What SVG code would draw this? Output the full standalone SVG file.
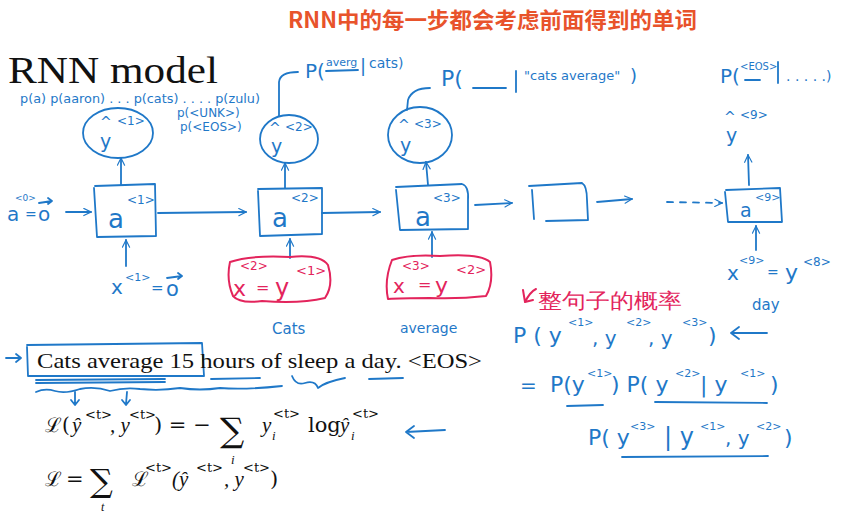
<svg xmlns="http://www.w3.org/2000/svg" width="849" height="516" viewBox="0 0 849 516">
<style>
.b{fill:none;stroke:#1F78C8;stroke-width:1.8;stroke-linecap:round;stroke-linejoin:round}
.r{fill:none;stroke:#E3245C;stroke-width:2;stroke-linecap:round;stroke-linejoin:round}
.bt{fill:#1F78C8;font-family:"DejaVu Sans","Liberation Sans",sans-serif}
.rt{fill:#E3245C;font-family:"DejaVu Sans","Liberation Sans",sans-serif}
.serif{fill:#111;font-family:"Liberation Serif","DejaVu Serif",serif}
.m{fill:#111;font-family:"DejaVu Serif","Liberation Serif",serif}
.mi{fill:#111;font-family:"Liberation Serif","DejaVu Serif",serif;font-style:italic}
</style>
<defs>
<marker id="ah" viewBox="0 0 10 10" refX="9" refY="5" markerWidth="9" markerHeight="9" markerUnits="userSpaceOnUse" orient="auto">
<path d="M1,1 L9,5 L1,9" fill="none" stroke="#1F78C8" stroke-width="1.3" stroke-linecap="round"/>
</marker>
</defs>
<rect width="849" height="516" fill="#fff"/>

<text x="288" y="28" font-size="22" font-weight="bold" fill="#E8532B" font-family="'Noto Sans CJK SC',sans-serif" textLength="409" lengthAdjust="spacingAndGlyphs">RNN中的每一步都会考虑前面得到的单词</text>
<text class="serif" x="8" y="83" font-size="38" textLength="210" lengthAdjust="spacingAndGlyphs">RNN model</text>

<g id="vocab-probs">
<text class="bt" x="20" y="103" font-size="13" textLength="240" lengthAdjust="spacingAndGlyphs">p(a) p(aaron) . . . p(cats) . . . . p(zulu)</text>
<text class="bt" x="177" y="117" font-size="12">p(&lt;UNK&gt;)</text>
<text class="bt" x="180" y="131" font-size="12">p(&lt;EOS&gt;)</text>
</g>

<g id="connectors">
<path class="b" d="M66,212 L91,212" marker-end="url(#ah)"/>
<path class="b" d="M158,213 L246,212" marker-end="url(#ah)"/>
<path class="b" d="M322,213 L380,212" marker-end="url(#ah)"/>
<path class="b" d="M475,205 L512,203" marker-end="url(#ah)"/>
<path class="b" d="M597,202 L632,199" marker-end="url(#ah)"/>
<path class="b" d="M667,202 L722,203" stroke-dasharray="6,7" marker-end="url(#ah)"/>
<path class="b" d="M121,185 L121,158" marker-end="url(#ah)"/>
<path class="b" d="M285,188 L285,163" marker-end="url(#ah)"/>
<path class="b" d="M428,185 L426,162" marker-end="url(#ah)"/>
<path class="b" d="M126,266 L126,240" marker-end="url(#ah)"/>
<path class="b" d="M290,258 L290,239" marker-end="url(#ah)"/>
<path class="b" d="M432,257 L432,232" marker-end="url(#ah)"/>
<path class="b" d="M756,250 L756,226" marker-end="url(#ah)"/>
<path class="b" d="M749,185 L748,155" marker-end="url(#ah)"/>
<path class="b" d="M279,116 L279,82 Q280,72 298,72"/>
<path class="b" d="M407,110 L408,100 Q412,88 430,88"/>
</g>

<g id="a0">
<text class="bt" x="7" y="221" font-size="20">a</text>
<text class="bt" x="15" y="201" font-size="9">&lt;0&gt;</text>
<text class="bt" x="25" y="219" font-size="14">=</text>
<text class="bt" x="38" y="221" font-size="20">o</text>
<path class="b" d="M39,203 L52,201 M48,198 L52,201 L48,204"/>
</g>

<g id="y1">
<ellipse class="b" cx="118" cy="133" rx="35" ry="25"/>
<text class="bt" x="100" y="127" font-size="14">^</text>
<text class="bt" x="117" y="125" font-size="12">&lt;1&gt;</text>
<text class="bt" x="100" y="148" font-size="19">y</text>
</g>
<g id="a1">
<path class="b" d="M95,186 L155,184 L156,236 L97,237 L94,188"/>
<text class="bt" x="108" y="228" font-size="26">a</text>
<text class="bt" x="127" y="204" font-size="12">&lt;1&gt;</text>
</g>
<g id="x1">
<text class="bt" x="111" y="294" font-size="20">x</text>
<text class="bt" x="125" y="281" font-size="11">&lt;1&gt;</text>
<text class="bt" x="151" y="293" font-size="15">=</text>
<text class="bt" x="166" y="296" font-size="21">o</text>
<path class="b" d="M167,278 L182,276 M178,273 L182,276 L178,279"/>
</g>

<g id="y2">
<ellipse class="b" cx="289" cy="139" rx="29" ry="24"/>
<text class="bt" x="269" y="133" font-size="14">^</text>
<text class="bt" x="285" y="131" font-size="12">&lt;2&gt;</text>
<text class="bt" x="271" y="153" font-size="19">y</text>
</g>
<g id="p-average">
<text class="bt" x="305" y="78" font-size="20">P(</text>
<text class="bt" x="326" y="66" font-size="11">averg</text>
<path class="b" d="M326,71 L358,70"/>
<text class="bt" x="360" y="72" font-size="18">|</text>
<text class="bt" x="369" y="68" font-size="14">cats)</text>
</g>
<g id="a2">
<path class="b" d="M258,189 L322,188 L322,234 L260,236 L258,191"/>
<text class="bt" x="272" y="227" font-size="26">a</text>
<text class="bt" x="291" y="202" font-size="12">&lt;2&gt;</text>
</g>
<g id="x2">
<path class="r" d="M230,262 Q250,255 290,257 Q320,254 328,265 Q334,285 325,298 Q300,304 262,301 Q240,304 233,296 Q226,280 230,262 Z"/>
<text class="rt" x="233" y="296" font-size="22">x</text>
<text class="rt" x="240" y="270" font-size="12">&lt;2&gt;</text>
<text class="rt" x="256" y="293" font-size="16">=</text>
<text class="rt" x="275" y="296" font-size="24">y</text>
<text class="rt" x="296" y="275" font-size="13">&lt;1&gt;</text>
<text class="bt" x="272" y="334" font-size="15">Cats</text>
</g>

<g id="y3">
<ellipse class="b" cx="420" cy="135" rx="32" ry="28"/>
<text class="bt" x="398" y="130" font-size="14">^</text>
<text class="bt" x="414" y="128" font-size="12">&lt;3&gt;</text>
<text class="bt" x="400" y="152" font-size="19">y</text>
</g>
<g id="p-blank">
<text class="bt" x="441" y="86" font-size="22">P(</text>
<path class="b" d="M473,88 L506,88 M516,71 L516,92"/>
<text class="bt" x="524" y="80" font-size="13">"cats average"</text>
<text class="bt" x="630" y="82" font-size="18">)</text>
</g>
<g id="a3">
<path class="b" d="M396,187 L462,184 Q469,186 468,200 L468,229 L400,230 L396,190"/>
<text class="bt" x="415" y="226" font-size="26">a</text>
<text class="bt" x="433" y="202" font-size="12">&lt;3&gt;</text>
</g>
<g id="x3">
<path class="r" d="M392,260 Q410,254 440,256 Q480,253 490,262 Q494,282 486,296 Q460,299 430,298 Q400,298 388,299 Q384,280 392,260 Z"/>
<text class="rt" x="393" y="293" font-size="20">x</text>
<text class="rt" x="402" y="270" font-size="12">&lt;3&gt;</text>
<text class="rt" x="418" y="290" font-size="16">=</text>
<text class="rt" x="435" y="293" font-size="22">y</text>
<text class="rt" x="456" y="274" font-size="13">&lt;2&gt;</text>
<text class="bt" x="400" y="333" font-size="14">average</text>
</g>

<g id="a4">
<path class="b" d="M529,186 L582,183 Q587,186 587,200 L588,220 L546,221 M534,219 L532,190"/>
</g>

<g id="y9">
<text class="bt" x="720" y="83" font-size="20">P(</text>
<text class="bt" x="740" y="70" font-size="10">&lt;EOS&gt;</text>
<path class="b" d="M745,80 L760,80 M778,62 L778,83"/>
<text class="bt" x="786" y="81" font-size="14">. . . . .)</text>
<text class="bt" x="724" y="122" font-size="14">^</text>
<text class="bt" x="740" y="119" font-size="12">&lt;9&gt;</text>
<text class="bt" x="726" y="142" font-size="19">y</text>
</g>
<g id="a9">
<path class="b" d="M726,190 L780,188 L782,222 L728,222 L725,192"/>
<text class="bt" x="740" y="217" font-size="19">a</text>
<text class="bt" x="755" y="201" font-size="11">&lt;9&gt;</text>
</g>
<g id="x9">
<text class="bt" x="727" y="280" font-size="20">x</text>
<text class="bt" x="739" y="264" font-size="11">&lt;9&gt;</text>
<text class="bt" x="767" y="277" font-size="14">=</text>
<text class="bt" x="785" y="280" font-size="22">y</text>
<text class="bt" x="803" y="266" font-size="12">&lt;8&gt;</text>
<text class="bt" x="752" y="310" font-size="15">day</text>
</g>

<g id="sentence-prob">
<path class="r" d="M523,290 L525,302 L533,300 M525,302 Q530,292 536,289"/>
<text class="rt" x="538" y="308" font-size="21" font-family="'Noto Sans CJK SC',sans-serif" textLength="144" lengthAdjust="spacingAndGlyphs">整句子的概率</text>
<text class="bt" x="513" y="343" font-size="22">P ( y</text>
<text class="bt" x="568" y="326" font-size="11">&lt;1&gt;</text>
<text class="bt" x="592" y="345" font-size="20">, y</text>
<text class="bt" x="626" y="326" font-size="11">&lt;2&gt;</text>
<text class="bt" x="648" y="345" font-size="20">, y</text>
<text class="bt" x="682" y="326" font-size="11">&lt;3&gt;</text>
<text class="bt" x="708" y="343" font-size="22">)</text>
<path class="b" d="M767,333 L731,333 M739,327 L731,333 L739,339"/>
<text class="bt" x="520" y="392" font-size="20">=</text>
<text class="bt" x="550" y="392" font-size="22">P(y</text>
<text class="bt" x="587" y="377" font-size="11">&lt;1&gt;</text>
<text class="bt" x="611" y="392" font-size="22">) P( y</text>
<text class="bt" x="675" y="377" font-size="11">&lt;2&gt;</text>
<text class="bt" x="700" y="392" font-size="22">| y</text>
<text class="bt" x="740" y="377" font-size="11">&lt;1&gt;</text>
<text class="bt" x="770" y="392" font-size="22">)</text>
<path class="b" d="M567,406 L603,405 M655,402 L767,403"/>
<text class="bt" x="588" y="445" font-size="22">P( y</text>
<text class="bt" x="630" y="430" font-size="11">&lt;3&gt;</text>
<text class="bt" x="664" y="445" font-size="24">| y</text>
<text class="bt" x="700" y="430" font-size="11">&lt;1&gt;</text>
<text class="bt" x="725" y="445" font-size="20">, y</text>
<text class="bt" x="756" y="430" font-size="11">&lt;2&gt;</text>
<text class="bt" x="784" y="445" font-size="22">)</text>
<path class="b" d="M622,457 L768,456"/>
</g>

<g id="sentence">
<path class="b" d="M6,358 L21,358 M16,354 L21,358 L16,362"/>
<path class="b" d="M27,345 L202,343 L204,376 L28,376 L27,347"/>
<text class="serif" x="37" y="368" font-size="21" textLength="445" lengthAdjust="spacingAndGlyphs">Cats average 15 hours of sleep a day. &lt;EOS&gt;</text>
<path class="b" d="M36,380 L165,379 M36,383 L165,382 M211,379 L260,378 M369,379 L403,378"/>
<path class="b" d="M292,376 Q296,386 305,383 Q315,380 318,388 Q325,382 345,378"/>
<path class="b" d="M36,392 Q45,388 55,391 Q65,394 80,389 Q95,386 110,391 Q125,387 140,389 Q160,391 180,388 Q200,391 220,388 Q245,390 282,386"/>
<path class="b" d="M75,392 L75,404 M71,400 L75,405 L79,400 M127,392 L126,404 M122,400 L126,405 L130,400"/>
</g>

<g id="loss-step">
<text class="m" x="45" y="432" font-size="20">ℒ(</text>
<text class="mi" x="72" y="432" font-size="21">ŷ</text>
<text class="m" x="85" y="419" font-size="13">&lt;t&gt;</text>
<text class="mi" x="110" y="432" font-size="21">, y</text>
<text class="m" x="129" y="419" font-size="13">&lt;t&gt;</text>
<text class="m" x="154" y="432" font-size="21">) = −</text>
<text class="m" x="220" y="442" font-size="34">∑</text>
<text class="mi" x="231" y="464" font-size="13">i</text>
<text class="mi" x="262" y="432" font-size="21">y</text>
<text class="mi" x="272" y="440" font-size="13">i</text>
<text class="m" x="273" y="418" font-size="13">&lt;t&gt;</text>
<text class="m" x="308" y="432" font-size="21">log</text>
<text class="mi" x="340" y="432" font-size="21">ŷ</text>
<text class="mi" x="351" y="440" font-size="13">i</text>
<text class="m" x="352" y="418" font-size="13">&lt;t&gt;</text>
<path class="b" d="M445,430 L406,432 M414,426 L406,432 L414,438"/>
</g>
<g id="loss-total">
<text class="m" x="45" y="486" font-size="20">ℒ</text>
<text class="m" x="66" y="486" font-size="21">=</text>
<text class="m" x="90" y="492" font-size="32">∑</text>
<text class="mi" x="101" y="511" font-size="12">t</text>
<text class="m" x="132" y="486" font-size="20">ℒ</text>
<text class="m" x="145" y="472" font-size="13">&lt;t&gt;</text>
<text class="mi" x="172" y="486" font-size="21">(ŷ</text>
<text class="m" x="196" y="472" font-size="13">&lt;t&gt;</text>
<text class="mi" x="224" y="486" font-size="21">, y</text>
<text class="m" x="243" y="472" font-size="13">&lt;t&gt;</text>
<text class="m" x="270" y="486" font-size="21">)</text>
</g>
</svg>
